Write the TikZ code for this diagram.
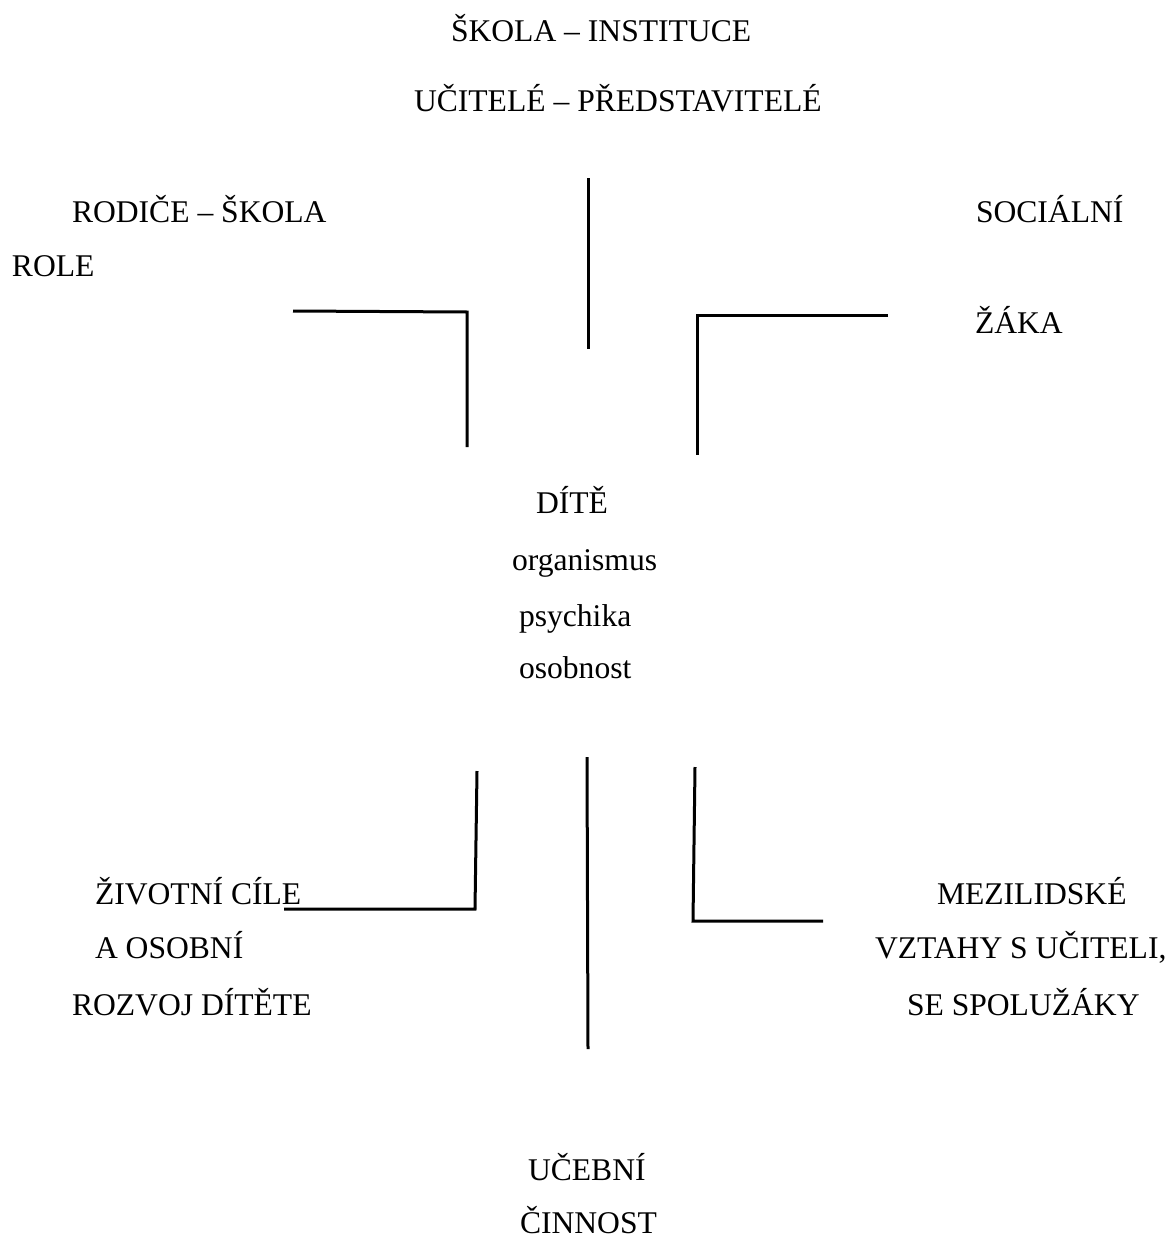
\documentclass[tikz,border=0pt]{standalone}
\usepackage{fontspec}
\setmainfont{Liberation Serif}
\begin{document}
\begin{tikzpicture}[x=1pt,y=-1pt,
  lbl/.style={anchor=base west,inner sep=0pt,outer sep=0pt,font=\fontsize{31.6}{38}\selectfont},
  stroke/.style={line width=3pt,line cap=butt,line join=miter}]
\useasboundingbox (0,0) rectangle (1169,1236);
% texts
\node[lbl] (skola) at (451,42) {ŠKOLA – INSTITUCE};
\node[lbl] (ucitele) at (414,112) {UČITELÉ – PŘEDSTAVITELÉ};
\node[lbl] (rodice) at (72,222) {RODIČE – ŠKOLA};
\node[lbl] (role) at (12,276) {ROLE};
\node[lbl] (socialni) at (976,222) {SOCIÁLNÍ};
\node[lbl] (zaka) at (975,333) {ŽÁKA};
\node[lbl] (dite) at (536,513) {DÍTĚ};
\node[lbl] (organismus) at (512,570) {organismus};
\node[lbl] (psychika) at (519,626) {psychika};
\node[lbl] (osobnost) at (519,678) {osobnost};
\node[lbl] (zivotni) at (95,904) {ŽIVOTNÍ CÍLE};
\node[lbl] (aosobni) at (95,958) {A OSOBNÍ};
\node[lbl] (rozvoj) at (72,1015) {ROZVOJ DÍTĚTE};
\node[lbl] (mezilidske) at (937,904) {MEZILIDSKÉ};
\node[lbl] (vztahy) at (875,958) {VZTAHY S UČITELI,};
\node[lbl] (spoluzaky) at (907,1015) {SE SPOLUŽÁKY};
\node[lbl] (ucebni) at (528,1180) {UČEBNÍ};
\node[lbl] (cinnost) at (520,1233) {ČINNOST};
% strokes
\coordinate (tc1) at (588,178); \coordinate (tc2) at (588,349);
\draw[stroke] (tc1) -- (tc2);
\coordinate (tl1) at (293,311); \coordinate (tl2) at (467,312); \coordinate (tl3) at (467,447);
\draw[stroke] (tl1) -- (tl2) -- (tl3);
\coordinate (tr1) at (888,315); \coordinate (tr2) at (697,315); \coordinate (tr3) at (697,455);
\draw[stroke] (tr1) -- (tr2) -- (tr3);
\coordinate (bc1) at (587,757); \coordinate (bc2) at (588,1049);
\draw[stroke] (bc1) -- (bc2);
\coordinate (bl1) at (477,771); \coordinate (bl2) at (475,909); \coordinate (bl3) at (284,909);
\draw[stroke] (bl1) -- (bl2) -- (bl3);
\coordinate (br1) at (695,767); \coordinate (br2) at (693,921); \coordinate (br3) at (823,921);
\draw[stroke] (br1) -- (br2) -- (br3);
\end{tikzpicture}
\end{document}
